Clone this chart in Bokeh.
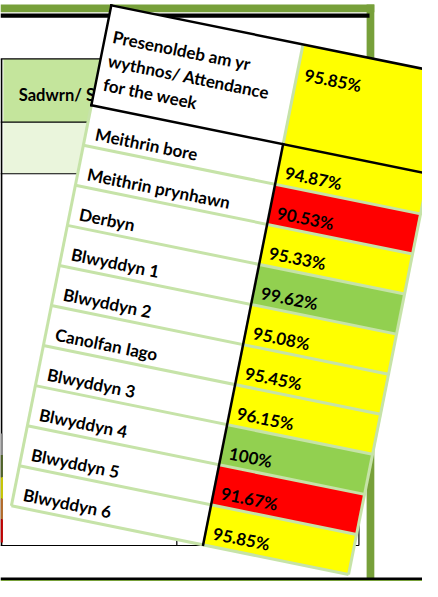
import numpy as np
from bokeh.plotting import figure
from bokeh.models import Range1d
from bokeh.core.properties import value
from bokeh.embed import file_html
from bokeh.resources import INLINE

# ---------------- data ----------------
header_lines = ["Presenoldeb am yr", "wythnos/ Attendance", "for the week"]
header_value = 95.85
groups = ["Meithrin  bore", "Meithrin prynhawn", "Derbyn", "Blwyddyn 1", "Blwyddyn 2",
          "Canolfan Iago", "Blwyddyn 3", "Blwyddyn 4", "Blwyddyn 5", "Blwyddyn 6"]
attendance = [94.87, 90.53, 95.33, 99.62, 95.08, 95.45, 96.15, 100, 91.67, 95.85]
bg_header_text = "Sadwrn/ S"

# ---------------- style / layout ----------------
PAGE_W, PAGE_H = 438, 597
YELLOW, RED, GREEN = "#FFFF00", "#FF0000", "#92D050"
FRAME_GREEN = "#77A03A"
LINE_GREEN = "#C6E3A8"
FONT = value("Lato")


def fmt(v):
    return ("%d%%" % v) if float(v).is_integer() else ("%.2f%%" % v)


def colour(v):
    if v < 92:
        return RED
    if v >= 97:
        return GREEN
    return YELLOW


# table frame geometry (in table coordinates, u across, v down)
X0, Y0 = 115.0, 5.0
theta = np.deg2rad(11.4)
c, s = np.cos(theta), np.sin(theta)
HH = 104.6      # header height
RH = 42.0       # row height
SPLIT = 203.0   # label column width
TW = 357.0      # table width
n = len(groups)
TH = HH + n * RH


def T(u, v):
    u = np.asarray(u, float)
    v = np.asarray(v, float)
    sx = X0 + u * c - v * s
    sy = Y0 + u * s + v * c
    return sx, PAGE_H - sy


def rect_poly(u0, u1, v0, v1):
    xs, ys = T([u0, u1, u1, u0], [v0, v0, v1, v1])
    return list(xs), list(ys)


def seg(u0, v0, u1, v1):
    xs, ys = T([u0, u1], [v0, v1])
    return list(xs), list(ys)


p = figure(width=422, height=581, x_range=Range1d(0, PAGE_W), y_range=Range1d(0, PAGE_H),
           output_backend="svg", toolbar_location=None, min_border=0)
p.axis.visible = False
p.grid.visible = False
p.outline_line_color = None
p.background_fill_color = "white"
p.border_fill_color = "white"


def sq(l, r, t, b, color):
    p.quad(left=l, right=r, top=PAGE_H - t, bottom=PAGE_H - b, fill_color=color, line_color=None)


def hline(x0, x1, y, w=1.2, color="black"):
    p.line([x0, x1], [PAGE_H - y, PAGE_H - y], line_color=color, line_width=w)


def vline(x, y0, y1, w=1.2, color="black"):
    p.line([x, x], [PAGE_H - y0, PAGE_H - y1], line_color=color, line_width=w)


# ---------------- background document ----------------
sq(0, 388, 4, 12, FRAME_GREEN)
sq(380, 388, 4, 597, FRAME_GREEN)
sq(0, 383, 13.3, 17.8, "black")
sq(3, 330, 60, 125, "#C4E59C")
sq(3, 330, 125, 178, "#EAF5DC")
hline(0, 372, 60)
hline(0, 372, 125)
hline(0, 372, 178)
hline(0, 372, 560)
vline(183, 178, 560)
vline(372, 178, 560)
vline(1, 60, 560, w=1.8)
# small coloured key cells at the far left edge
for (t, b, col) in [(445, 467, "#8C8C8C"), (467, 490, "#4F6228"), (490, 512, "#C8C800"),
                    (512, 533, "#B46A28"), (533, 557, "#C00000")]:
    sq(0, 2.5, t, b, col)
sq(0, 438, 593, 595.5, "black")
sq(0, 438, 595.5, 597, FRAME_GREEN)
p.text(x=[19], y=[PAGE_H - 97.5], text=[bg_header_text], text_font=FONT, text_font_style="bold",
       text_font_size="16.5px", text_align="left", text_baseline="alphabetic", text_color="black")

# ---------------- rotated table: cells ----------------
cx, cy, cc = [], [], []
for (u0, u1, v0, v1, col) in [(0, SPLIT, 0, HH, "white"), (SPLIT, TW + 40, 0, HH, colour(header_value))]:
    a, b = rect_poly(u0, u1, v0, v1)
    cx.append(a); cy.append(b); cc.append(col)
for i, val in enumerate(attendance):
    v0, v1 = HH + i * RH, HH + (i + 1) * RH
    a, b = rect_poly(0, SPLIT, v0, v1)
    cx.append(a); cy.append(b); cc.append("white")
    a, b = rect_poly(SPLIT, TW, v0, v1)
    cx.append(a); cy.append(b); cc.append(colour(val))
p.patches(cx, cy, fill_color=cc, line_color=None)

# light green grid lines
gx, gy = [], []
for i in range(1, n + 1):
    a, b = seg(0, HH + i * RH, TW, HH + i * RH)
    gx.append(a); gy.append(b)
for (u0, v0, u1, v1) in [(0, HH, 0, TH), (TW, HH, TW, TH), (SPLIT, 0, SPLIT, HH)]:
    a, b = seg(u0, v0, u1, v1)
    gx.append(a); gy.append(b)
p.multi_line(gx, gy, line_color=LINE_GREEN, line_width=3)

# black borders
bx, by = [], []
for (u0, v0, u1, v1) in [(0, 0, TW + 40, 0), (0, 0, 0, HH), (0, HH, TW + 40, HH), (SPLIT, HH, SPLIT, TH)]:
    a, b = seg(u0, v0, u1, v1)
    bx.append(a); by.append(b)
p.multi_line(bx, by, line_color="black", line_width=2.5, line_cap="square")

# ---------------- texts ----------------
tu, tv, tt = [], [], []
for k, line in enumerate(header_lines):
    tu.append(8); tv.append(31 + 25 * k); tt.append(line)
tu.append(SPLIT + 8); tv.append(30); tt.append(fmt(header_value))
for i, (g, val) in enumerate(zip(groups, attendance)):
    base = HH + i * RH + 28
    tu.append(10); tv.append(base); tt.append(g)
    tu.append(SPLIT + 8); tv.append(base); tt.append(fmt(val))
txs, tys = T(tu, tv)
p.text(x=list(txs), y=list(tys), text=tt, angle=-theta, text_font=FONT, text_font_style="bold",
       text_font_size="17px", text_align="left", text_baseline="alphabetic", text_color="black")

open("out.html", "w").write(file_html(p, INLINE))
